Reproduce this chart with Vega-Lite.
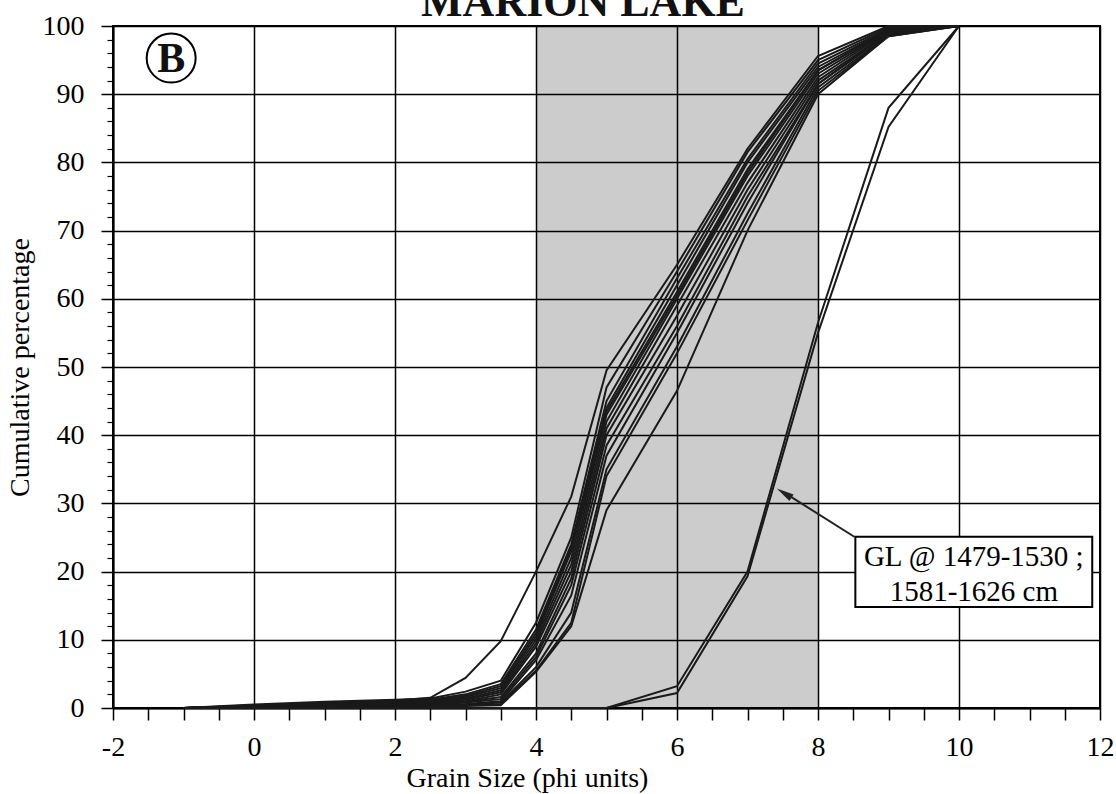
{
  "$schema": "https://vega.github.io/schema/vega-lite/v6.json",
  "width": 987,
  "height": 682,
  "autosize": {"type": "none"},
  "padding": {"left": 113, "top": 26, "right": 16, "bottom": 86},
  "background": "white",
  "config": {"view": {"stroke": "black", "strokeWidth": 2}, "font": "Liberation Serif"},
  "datasets": {
    "curves": [
      {"id":"c1","phi":-1,"pct":0},{"id":"c1","phi":0,"pct":0.3},{"id":"c1","phi":1,"pct":0.8},{"id":"c1","phi":2,"pct":1.1},{"id":"c1","phi":2.5,"pct":1.5},{"id":"c1","phi":3,"pct":4.4},{"id":"c1","phi":3.5,"pct":9.8},{"id":"c1","phi":4,"pct":20},{"id":"c1","phi":4.5,"pct":31},{"id":"c1","phi":5,"pct":49.5},{"id":"c1","phi":6,"pct":65},{"id":"c1","phi":7,"pct":82},{"id":"c1","phi":8,"pct":95.6},{"id":"c1","phi":9,"pct":100},{"id":"c1","phi":10,"pct":100},
      {"id":"c2","phi":-1,"pct":0},{"id":"c2","phi":0,"pct":0.5},{"id":"c2","phi":1,"pct":0.9},{"id":"c2","phi":2,"pct":1.2},{"id":"c2","phi":2.5,"pct":1.4},{"id":"c2","phi":3,"pct":2.4},{"id":"c2","phi":3.5,"pct":4.0},{"id":"c2","phi":4,"pct":12.5},{"id":"c2","phi":4.5,"pct":25},{"id":"c2","phi":5,"pct":47},{"id":"c2","phi":6,"pct":64},{"id":"c2","phi":7,"pct":81.5},{"id":"c2","phi":8,"pct":95},{"id":"c2","phi":9,"pct":99.8},{"id":"c2","phi":10,"pct":100},
      {"id":"c3","phi":-1,"pct":0},{"id":"c3","phi":0,"pct":0.4},{"id":"c3","phi":1,"pct":0.7},{"id":"c3","phi":2,"pct":1.0},{"id":"c3","phi":2.5,"pct":1.2},{"id":"c3","phi":3,"pct":2.0},{"id":"c3","phi":3.5,"pct":3.5},{"id":"c3","phi":4,"pct":11.5},{"id":"c3","phi":4.5,"pct":24},{"id":"c3","phi":5,"pct":45},{"id":"c3","phi":6,"pct":63},{"id":"c3","phi":7,"pct":80.5},{"id":"c3","phi":8,"pct":94.5},{"id":"c3","phi":9,"pct":99.6},{"id":"c3","phi":10,"pct":100},
      {"id":"c4","phi":-1,"pct":0},{"id":"c4","phi":0,"pct":0.3},{"id":"c4","phi":1,"pct":0.6},{"id":"c4","phi":2,"pct":0.9},{"id":"c4","phi":2.5,"pct":1.1},{"id":"c4","phi":3,"pct":1.8},{"id":"c4","phi":3.5,"pct":3.2},{"id":"c4","phi":4,"pct":11},{"id":"c4","phi":4.5,"pct":23.5},{"id":"c4","phi":5,"pct":44},{"id":"c4","phi":6,"pct":62},{"id":"c4","phi":7,"pct":80},{"id":"c4","phi":8,"pct":94},{"id":"c4","phi":9,"pct":99.5},{"id":"c4","phi":10,"pct":100},
      {"id":"c5","phi":-1,"pct":0},{"id":"c5","phi":0,"pct":0.3},{"id":"c5","phi":1,"pct":0.5},{"id":"c5","phi":2,"pct":0.8},{"id":"c5","phi":2.5,"pct":1.0},{"id":"c5","phi":3,"pct":1.6},{"id":"c5","phi":3.5,"pct":2.9},{"id":"c5","phi":4,"pct":10.5},{"id":"c5","phi":4.5,"pct":23},{"id":"c5","phi":5,"pct":43.5},{"id":"c5","phi":6,"pct":61},{"id":"c5","phi":7,"pct":79},{"id":"c5","phi":8,"pct":93.5},{"id":"c5","phi":9,"pct":99.5},{"id":"c5","phi":10,"pct":100},
      {"id":"c6","phi":-1,"pct":0},{"id":"c6","phi":0,"pct":0.2},{"id":"c6","phi":1,"pct":0.4},{"id":"c6","phi":2,"pct":0.7},{"id":"c6","phi":2.5,"pct":0.9},{"id":"c6","phi":3,"pct":1.4},{"id":"c6","phi":3.5,"pct":2.6},{"id":"c6","phi":4,"pct":10},{"id":"c6","phi":4.5,"pct":22},{"id":"c6","phi":5,"pct":43},{"id":"c6","phi":6,"pct":60.5},{"id":"c6","phi":7,"pct":78.5},{"id":"c6","phi":8,"pct":93.5},{"id":"c6","phi":9,"pct":99.4},{"id":"c6","phi":10,"pct":100},
      {"id":"c7","phi":-1,"pct":0},{"id":"c7","phi":0,"pct":0.2},{"id":"c7","phi":1,"pct":0.4},{"id":"c7","phi":2,"pct":0.6},{"id":"c7","phi":2.5,"pct":0.8},{"id":"c7","phi":3,"pct":1.2},{"id":"c7","phi":3.5,"pct":2.3},{"id":"c7","phi":4,"pct":9.5},{"id":"c7","phi":4.5,"pct":21},{"id":"c7","phi":5,"pct":42},{"id":"c7","phi":6,"pct":60},{"id":"c7","phi":7,"pct":78},{"id":"c7","phi":8,"pct":93},{"id":"c7","phi":9,"pct":99.3},{"id":"c7","phi":10,"pct":100},
      {"id":"c8","phi":-1,"pct":0},{"id":"c8","phi":0,"pct":0.2},{"id":"c8","phi":1,"pct":0.3},{"id":"c8","phi":2,"pct":0.5},{"id":"c8","phi":2.5,"pct":0.7},{"id":"c8","phi":3,"pct":1.0},{"id":"c8","phi":3.5,"pct":2.0},{"id":"c8","phi":4,"pct":9},{"id":"c8","phi":4.5,"pct":20},{"id":"c8","phi":5,"pct":41},{"id":"c8","phi":6,"pct":59},{"id":"c8","phi":7,"pct":77},{"id":"c8","phi":8,"pct":92.5},{"id":"c8","phi":9,"pct":99.2},{"id":"c8","phi":10,"pct":100},
      {"id":"c9","phi":-1,"pct":0},{"id":"c9","phi":0,"pct":0.1},{"id":"c9","phi":1,"pct":0.3},{"id":"c9","phi":2,"pct":0.5},{"id":"c9","phi":2.5,"pct":0.6},{"id":"c9","phi":3,"pct":0.9},{"id":"c9","phi":3.5,"pct":1.6},{"id":"c9","phi":4,"pct":8},{"id":"c9","phi":4.5,"pct":19},{"id":"c9","phi":5,"pct":40},{"id":"c9","phi":6,"pct":57.5},{"id":"c9","phi":7,"pct":76},{"id":"c9","phi":8,"pct":92},{"id":"c9","phi":9,"pct":99},{"id":"c9","phi":10,"pct":100},
      {"id":"c10","phi":-1,"pct":0},{"id":"c10","phi":0,"pct":0.1},{"id":"c10","phi":1,"pct":0.2},{"id":"c10","phi":2,"pct":0.4},{"id":"c10","phi":2.5,"pct":0.5},{"id":"c10","phi":3,"pct":0.8},{"id":"c10","phi":3.5,"pct":1.3},{"id":"c10","phi":4,"pct":7.5},{"id":"c10","phi":4.5,"pct":18},{"id":"c10","phi":5,"pct":38.5},{"id":"c10","phi":6,"pct":56},{"id":"c10","phi":7,"pct":75},{"id":"c10","phi":8,"pct":91.5},{"id":"c10","phi":9,"pct":99},{"id":"c10","phi":10,"pct":100},
      {"id":"c11","phi":-1,"pct":0},{"id":"c11","phi":0,"pct":0.1},{"id":"c11","phi":1,"pct":0.2},{"id":"c11","phi":2,"pct":0.3},{"id":"c11","phi":2.5,"pct":0.4},{"id":"c11","phi":3,"pct":0.6},{"id":"c11","phi":3.5,"pct":1.0},{"id":"c11","phi":4,"pct":7},{"id":"c11","phi":4.5,"pct":16.5},{"id":"c11","phi":5,"pct":37},{"id":"c11","phi":6,"pct":55},{"id":"c11","phi":7,"pct":74},{"id":"c11","phi":8,"pct":91.5},{"id":"c11","phi":9,"pct":98.8},{"id":"c11","phi":10,"pct":100},
      {"id":"c12","phi":-1,"pct":0},{"id":"c12","phi":0,"pct":0.1},{"id":"c12","phi":1,"pct":0.1},{"id":"c12","phi":2,"pct":0.2},{"id":"c12","phi":2.5,"pct":0.3},{"id":"c12","phi":3,"pct":0.5},{"id":"c12","phi":3.5,"pct":0.8},{"id":"c12","phi":4,"pct":6},{"id":"c12","phi":4.5,"pct":14},{"id":"c12","phi":5,"pct":35},{"id":"c12","phi":6,"pct":53},{"id":"c12","phi":7,"pct":72.5},{"id":"c12","phi":8,"pct":91},{"id":"c12","phi":9,"pct":98.6},{"id":"c12","phi":10,"pct":100},
      {"id":"c13","phi":-1,"pct":0},{"id":"c13","phi":0,"pct":0.1},{"id":"c13","phi":1,"pct":0.1},{"id":"c13","phi":2,"pct":0.2},{"id":"c13","phi":2.5,"pct":0.3},{"id":"c13","phi":3,"pct":0.4},{"id":"c13","phi":3.5,"pct":0.6},{"id":"c13","phi":4,"pct":5.5},{"id":"c13","phi":4.5,"pct":12.5},{"id":"c13","phi":5,"pct":34},{"id":"c13","phi":6,"pct":52},{"id":"c13","phi":7,"pct":71.5},{"id":"c13","phi":8,"pct":90.5},{"id":"c13","phi":9,"pct":98.5},{"id":"c13","phi":10,"pct":100},
      {"id":"c14","phi":-1,"pct":0},{"id":"c14","phi":0,"pct":0},{"id":"c14","phi":1,"pct":0.1},{"id":"c14","phi":2,"pct":0.1},{"id":"c14","phi":2.5,"pct":0.2},{"id":"c14","phi":3,"pct":0.3},{"id":"c14","phi":3.5,"pct":0.4},{"id":"c14","phi":4,"pct":5.3},{"id":"c14","phi":4.5,"pct":12},{"id":"c14","phi":5,"pct":29},{"id":"c14","phi":6,"pct":46.5},{"id":"c14","phi":7,"pct":70},{"id":"c14","phi":8,"pct":90},{"id":"c14","phi":9,"pct":98.5},{"id":"c14","phi":10,"pct":100},
      {"id":"g1","phi":-1,"pct":0},{"id":"g1","phi":0,"pct":0},{"id":"g1","phi":1,"pct":0},{"id":"g1","phi":2,"pct":0},{"id":"g1","phi":3,"pct":0},{"id":"g1","phi":3.5,"pct":0},{"id":"g1","phi":4,"pct":0},{"id":"g1","phi":4.5,"pct":0},{"id":"g1","phi":5,"pct":0},{"id":"g1","phi":6,"pct":3.2},{"id":"g1","phi":7,"pct":20},{"id":"g1","phi":8,"pct":56.5},{"id":"g1","phi":9,"pct":88},{"id":"g1","phi":10,"pct":100},
      {"id":"g2","phi":-1,"pct":0},{"id":"g2","phi":0,"pct":0},{"id":"g2","phi":1,"pct":0},{"id":"g2","phi":2,"pct":0},{"id":"g2","phi":3,"pct":0},{"id":"g2","phi":3.5,"pct":0},{"id":"g2","phi":4,"pct":0},{"id":"g2","phi":4.5,"pct":0},{"id":"g2","phi":5,"pct":0},{"id":"g2","phi":6,"pct":2.2},{"id":"g2","phi":7,"pct":19.3},{"id":"g2","phi":8,"pct":55},{"id":"g2","phi":9,"pct":85.2},{"id":"g2","phi":10,"pct":100}
    ]
  },
  "resolve": {"axis": {"y": "independent"}},
  "layer": [
    {
      "layer": [
        {
          "data": {"values": [{"x1": 4, "x2": 8, "y1": 0, "y2": 100}]},
          "mark": {"type": "rect", "fill": "black", "opacity": 0.2},
          "encoding": {
            "x": {"field": "x1", "type": "quantitative", "title": "Grain Size (phi units)",
              "scale": {"domain": [-2, 12], "nice": false, "zero": false},
              "axis": {
                "values": [-2,-1.5,-1,-0.5,0,0.5,1,1.5,2,2.5,3,3.5,4,4.5,5,5.5,6,6.5,7,7.5,8,8.5,9,9.5,10,10.5,11,11.5,12],
                "tickCount": 200,
                "labelExpr": "datum.value % 2 === 0 ? toString(datum.value) : ''",
                "grid": true, "gridColor": "black", "gridWidth": 1.5,
                "gridOpacity": {"condition": {"test": "datum.value % 2 === 0", "value": 1}, "value": 0},
                "tickColor": "black", "tickWidth": 1.5, "tickSize": 12,
                "domainColor": "black", "domainWidth": 2,
                "labelFontSize": 28, "labelFont": "Liberation Serif", "labelColor": "black", "labelPadding": 13,
                "labelFlush": false, "labelOverlap": false,
                "title": "Grain Size (phi units)", "titleFontSize": 28, "titleFont": "Liberation Serif", "titleFontWeight": "normal", "titleColor": "black",
                "titleX": 414, "titleY": 78, "titleAlign": "center", "titleBaseline": "alphabetic", "titleAnchor": null
              }},
            "x2": {"field": "x2"},
            "y": {"field": "y1", "type": "quantitative", "title": "Cumulative percentage",
              "scale": {"domain": [0, 100], "nice": false},
              "axis": {
                "values": [0,10,20,30,40,50,60,70,80,90,100],
                "tickCount": 200,
                "labelExpr": "toString(datum.value)",
                "grid": true, "gridColor": "black", "gridWidth": 1.5,
                "tickColor": "black", "tickWidth": 1.5, "tickSize": 12,
                "domainColor": "black", "domainWidth": 2,
                "labelFontSize": 28, "labelFont": "Liberation Serif", "labelColor": "black", "labelPadding": 17,
                "labelOverlap": false, "labelFlush": false,
                "title": "Cumulative percentage", "titleFontSize": 28, "titleFont": "Liberation Serif", "titleFontWeight": "normal", "titleColor": "black",
                "titleX": -93, "titleY": 341, "titleAngle": -90, "titleAlign": "center", "titleBaseline": "middle", "titleAnchor": null
              }},
            "y2": {"field": "y2"}
          }
        },
        {
          "data": {"name": "curves"},
          "mark": {"type": "line", "stroke": "#1a1a1a", "strokeWidth": 2},
          "encoding": {
            "x": {"field": "phi", "type": "quantitative", "title": "Grain Size (phi units)"},
            "y": {"field": "pct", "type": "quantitative", "title": "Cumulative percentage"},
            "detail": {"field": "id"}
          }
        },
        {
          "data": {"values": [{"x1": 8.53, "x2": 11.89, "y1": 14.8, "y2": 25.1}]},
          "mark": {"type": "rect", "fill": "white", "stroke": "black", "strokeWidth": 2},
          "encoding": {
            "x": {"field": "x1", "type": "quantitative", "title": "Grain Size (phi units)"},
            "x2": {"field": "x2"},
            "y": {"field": "y1", "type": "quantitative", "title": "Cumulative percentage"},
            "y2": {"field": "y2"}
          }
        },
        {
          "data": {"values": [{"x": 10.21, "y": 22.1, "label": "GL @ 1479-1530 ;"}, {"x": 10.21, "y": 17.0, "label": "1581-1626 cm"}]},
          "mark": {"type": "text", "font": "Liberation Serif", "fontSize": 29, "align": "center", "baseline": "middle", "color": "black"},
          "encoding": {
            "x": {"field": "x", "type": "quantitative", "title": "Grain Size (phi units)"},
            "y": {"field": "y", "type": "quantitative", "title": "Cumulative percentage"},
            "text": {"field": "label"}
          }
        },
        {
          "data": {"values": [{"x": 8.52, "y": 25.07, "x2": 7.55, "y2": 31.4}]},
          "mark": {"type": "rule", "stroke": "#222222", "strokeWidth": 2},
          "encoding": {
            "x": {"field": "x", "type": "quantitative", "title": "Grain Size (phi units)"},
            "y": {"field": "y", "type": "quantitative", "title": "Cumulative percentage"},
            "x2": {"field": "x2"},
            "y2": {"field": "y2"}
          }
        },
        {
          "data": {"values": [{"x": 7.52, "y": 31.5}]},
          "mark": {"type": "point", "shape": "M0,-1L0.45,1L-0.45,1Z", "filled": true, "color": "#222222", "opacity": 1, "size": 300, "angle": 302},
          "encoding": {
            "x": {"field": "x", "type": "quantitative", "title": "Grain Size (phi units)"},
            "y": {"field": "y", "type": "quantitative", "title": "Cumulative percentage"}
          }
        },
        {
          "data": {"values": [{"x": -1.175, "y": 95.3}]},
          "mark": {"type": "point", "shape": "circle", "filled": false, "stroke": "black", "strokeWidth": 2, "opacity": 1, "size": 2401},
          "encoding": {
            "x": {"field": "x", "type": "quantitative", "title": "Grain Size (phi units)"},
            "y": {"field": "y", "type": "quantitative", "title": "Cumulative percentage"}
          }
        },
        {
          "data": {"values": [{"x": -1.175, "y": 95.3, "label": "B"}]},
          "mark": {"type": "text", "font": "Liberation Serif", "fontSize": 42, "fontWeight": "bold", "align": "center", "baseline": "alphabetic", "dy": 14, "color": "#111111"},
          "encoding": {
            "x": {"field": "x", "type": "quantitative", "title": "Grain Size (phi units)"},
            "y": {"field": "y", "type": "quantitative", "title": "Cumulative percentage"},
            "text": {"field": "label"}
          }
        },
        {
          "data": {"values": [{"x": 4.667, "y": 101.4, "label": "MARION LAKE"}]},
          "mark": {"type": "text", "font": "Liberation Serif", "fontSize": 44, "fontWeight": "bold", "align": "center", "baseline": "alphabetic", "color": "#111111"},
          "encoding": {
            "x": {"field": "x", "type": "quantitative", "title": "Grain Size (phi units)"},
            "y": {"field": "y", "type": "quantitative", "title": "Cumulative percentage"},
            "text": {"field": "label"}
          }
        }
      ]
    },
    {
      "data": {"values": [{"v": 0}]},
      "mark": {"type": "point", "opacity": 0},
      "encoding": {
        "y": {"field": "v", "type": "quantitative",
          "axis": {
            "orient": "left",
            "values": [2,4,6,8,12,14,16,18,22,24,26,28,32,34,36,38,42,44,46,48,52,54,56,58,62,64,66,68,72,74,76,78,82,84,86,88,92,94,96,98],
            "tickCount": 200,
            "labels": false, "grid": false, "domain": false, "title": null,
            "tickColor": "black", "tickWidth": 1.2, "tickSize": 6
          }}
      }
    }
  ]
}
